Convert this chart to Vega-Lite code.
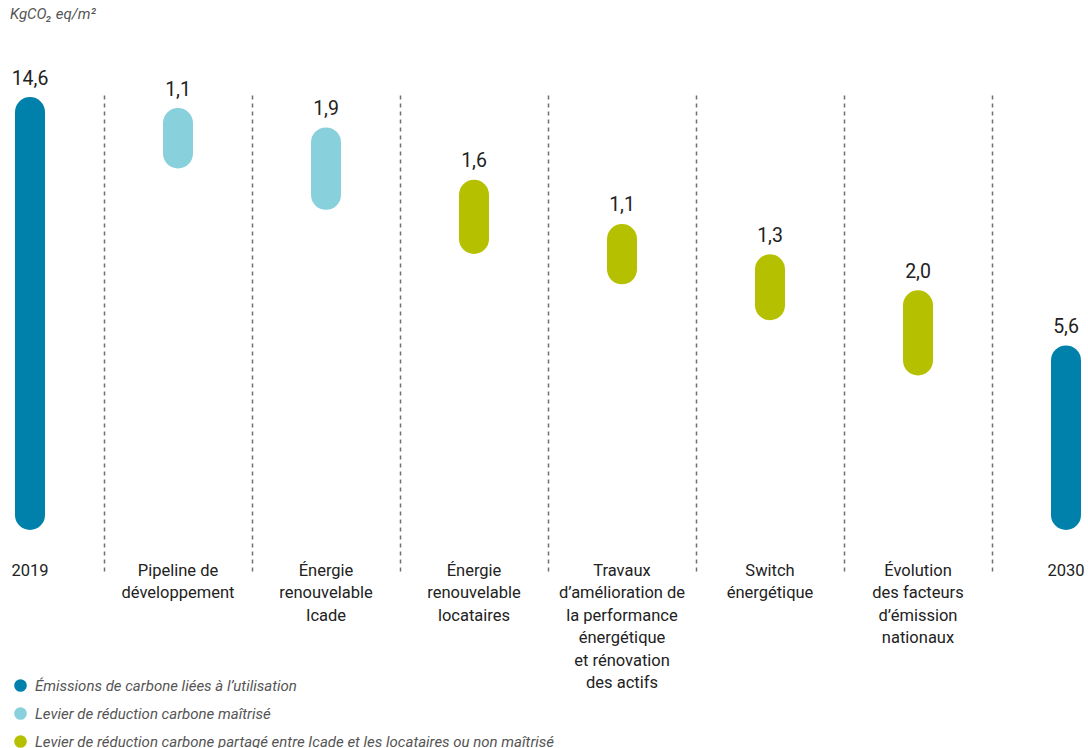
{
  "$schema": "https://vega.github.io/schema/vega-lite/v6.json",
  "autosize": {"type": "none"},
  "width": 1184,
  "height": 480,
  "padding": {"left": -44, "top": 95, "right": -52, "bottom": 173},
  "background": "white",
  "config": {
    "locale": {"number": {"decimal": ",", "thousands": " ", "grouping": [3], "currency": ["", " €"]}},
    "view": {"stroke": null},
    "font": "Roboto"
  },
  "title": {
    "text": "KgCO₂ eq/m²",
    "anchor": "start",
    "frame": "group",
    "dx": 54,
    "offset": 47,
    "fontSize": 15,
    "fontStyle": "italic",
    "fontWeight": "normal",
    "color": "#555555",
    "font": "Roboto"
  },
  "data": {
    "values": [
      {"cat": "2019", "value": 14.6, "start": 14.6, "end": 0, "type": "Émissions de carbone liées à l’utilisation"},
      {"cat": "Pipeline de\ndéveloppement", "value": 1.1, "start": 14.2, "end": 13.1, "type": "Levier de réduction carbone maîtrisé"},
      {"cat": "Énergie\nrenouvelable\nIcade", "value": 1.9, "start": 13.5, "end": 11.6, "type": "Levier de réduction carbone maîtrisé"},
      {"cat": "Énergie\nrenouvelable\nlocataires", "value": 1.6, "start": 11.6, "end": 10.0, "type": "Levier de réduction carbone partagé entre Icade et les locataires ou non maîtrisé"},
      {"cat": "Travaux\nd’amélioration de\nla performance\nénergétique\net rénovation\ndes actifs", "value": 1.1, "start": 10.0, "end": 8.9, "type": "Levier de réduction carbone partagé entre Icade et les locataires ou non maîtrisé"},
      {"cat": "Switch\nénergétique", "value": 1.3, "start": 8.9, "end": 7.6, "type": "Levier de réduction carbone partagé entre Icade et les locataires ou non maîtrisé"},
      {"cat": "Évolution\ndes facteurs\nd’émission\nnationaux", "value": 2.0, "start": 7.6, "end": 5.6, "type": "Levier de réduction carbone partagé entre Icade et les locataires ou non maîtrisé"},
      {"cat": "2030", "value": 5.6, "start": 5.6, "end": 0, "type": "Émissions de carbone liées à l’utilisation"}
    ]
  },
  "encoding": {
    "x": {
      "field": "cat",
      "type": "nominal",
      "sort": null,
      "scale": {"type": "band", "paddingInner": 0, "paddingOuter": 0},
      "axis": {
        "title": null,
        "orient": "bottom",
        "domain": false,
        "ticks": false,
        "labelAngle": 0,
        "labelPadding": 0,
        "labelBaseline": "alphabetic",
        "labelFontSize": 16.5,
        "labelLineHeight": 22.5,
        "labelColor": "#222222",
        "labelFont": "Roboto",
        "labelExpr": "split(datum.label, '\\n')",
        "labelLimit": 0,
        "grid": true,
        "bandPosition": 0,
        "gridDash": [4, 4],
        "gridColor": "#707070",
        "gridWidth": 1.5
      }
    }
  },
  "layer": [
    {
      "mark": {"type": "rule", "strokeWidth": 30, "strokeCap": "round"},
      "encoding": {
        "y": {"field": "start", "type": "quantitative", "scale": {"domain": [-2.174, 15.217], "nice": false, "zero": false}, "axis": null},
        "y2": {"field": "end"},
        "color": {
          "field": "type",
          "type": "nominal",
          "scale": {
            "domain": ["Émissions de carbone liées à l’utilisation", "Levier de réduction carbone maîtrisé", "Levier de réduction carbone partagé entre Icade et les locataires ou non maîtrisé"],
            "range": ["#0081AB", "#87D0DC", "#B5C100"]
          },
          "legend": {
            "title": null,
            "orient": "none",
            "legendX": 57,
            "legendY": 583,
            "padding": 0,
            "symbolType": "circle",
            "symbolSize": 160,
            "labelFontSize": 15,
            "labelFontStyle": "italic",
            "labelColor": "#555555",
            "labelFont": "Roboto",
            "labelLimit": 0,
            "labelOffset": 7,
            "rowPadding": 12,
            "encode": {
              "symbols": {"update": {"fill": {"scale": "color", "field": "value"}, "strokeWidth": {"value": 0}}}
            }
          }
        }
      }
    },
    {
      "mark": {"type": "text", "baseline": "alphabetic", "align": "center", "dy": -27.5, "fontSize": 19.5, "color": "#222222", "font": "Roboto"},
      "encoding": {
        "y": {"field": "start", "type": "quantitative"},
        "text": {"field": "value", "type": "quantitative", "format": ".1f"}
      }
    }
  ]
}
